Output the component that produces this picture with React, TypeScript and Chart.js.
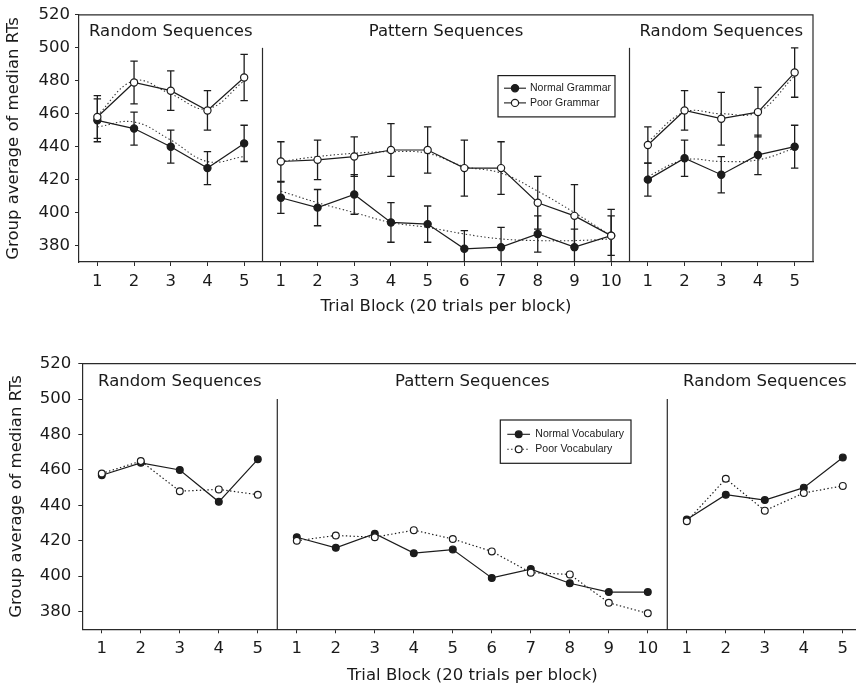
import React, { useEffect, useRef } from "react";
import { Chart, registerables } from "chart.js";

Chart.register(...registerables);

// ---------- data ----------
const randomBlocks = ["1", "2", "3", "4", "5"];
const patternBlocks = ["1", "2", "3", "4", "5", "6", "7", "8", "9", "10"];
const blockLabels = [...randomBlocks, ...patternBlocks, ...randomBlocks];
const sectionTitles = ["Random Sequences", "Pattern Sequences", "Random Sequences"];
const sectionSizes = [randomBlocks.length, patternBlocks.length, randomBlocks.length];
const yTicks = [380, 400, 420, 440, 460, 480, 500, 520];
const yMin = 370;
const yMax = 520;
const dividerTop = 500;
const sectionTitleLevel = 510;
const yTitle = "Group average of median RTs";
const xTitle = "Trial Block (20 trials per block)";

// Top panel (grammar)
const normalGrammar = [456, 451, 440, 427, 442, 409, 403, 411, 394, 393, 378, 379, 387, 379, 386, 420, 433, 423, 435, 440];
const normalGrammarErr = [13, 10, 10, 10, 11, 9.5, 11, 12, 12, 11, 11, 12, 11, 11, 12, 10, 11, 11, 12, 13];
const poorGrammar = [458, 479, 474, 462, 482, 431, 432, 434, 438, 438, 427, 427, 406, 398, 386, 441, 462, 457, 461, 485];
const poorGrammarErr = [13, 13, 12, 12, 14, 12, 12, 12, 16, 14, 17, 16, 16, 19, 16, 11, 12, 16, 15, 15];
const normalGrammarTrend = [452, 455, 444, 431, 434, 413, 406, 400, 394, 391, 387, 384, 383, 383, 384, 422, 432, 431, 432, 439];
const poorGrammarTrend = [459, 480, 472, 463, 480, 431, 434, 436, 437, 436, 428, 424, 413, 400, 386, 443, 461, 460, 461, 483];

// Bottom panel (vocabulary)
const normalVocab = [457, 464, 460, 442, 466, 422, 416, 424, 413, 415, 399, 404, 396, 391, 391, 432, 446, 443, 450, 467];
const poorVocab = [458, 465, 448, 449, 446, 420, 423, 422, 426, 421, 414, 402, 401, 385, 379, 431, 455, 437, 447, 451];

// ---------- styling ----------
const INK = "#1c1c1c";
const AXIS = "#2a2a2a";
const TEXT = "#1a1a1a";
const BIG_FAMILY = "'DejaVu Sans', sans-serif";
const BIG_SIZE = 16.5;
const SMALL_FONT = "10.5px 'Liberation Sans', Arial, sans-serif";
const DOTS = [1.4, 2.4];

const sectionStarts: number[] = [];
{
  let s = 0;
  sectionSizes.forEach((n) => {
    sectionStarts.push(s);
    s += n;
  });
}

function toPoints(values: number[]) {
  const pts: { x: number; y: number | null }[] = [];
  values.forEach((v, i) => {
    if (i > 0 && sectionStarts.includes(i)) pts.push({ x: i + 0.5, y: null });
    pts.push({ x: i + 1, y: v });
  });
  return pts;
}

function seriesDataset(label: string, values: number[], filled: boolean, dotted: boolean, order: number, radius: number) {
  return {
    label,
    data: toPoints(values),
    borderColor: INK,
    borderWidth: 1.2,
    borderDash: dotted ? DOTS : [],
    backgroundColor: filled ? INK : "#ffffff",
    pointBackgroundColor: filled ? INK : "#ffffff",
    pointBorderColor: INK,
    pointBorderWidth: 1.2,
    pointRadius: radius,
    pointHoverRadius: radius,
    tension: 0,
    order,
    legendItem: true,
  };
}

function trendDataset(label: string, values: number[], order: number) {
  return {
    label,
    data: toPoints(values),
    borderColor: "#333333",
    borderWidth: 1.1,
    borderDash: DOTS,
    pointRadius: 0,
    pointHoverRadius: 0,
    tension: 0.4,
    order,
    legendItem: false,
  };
}

type LegendSpec = { dx: number; dy: number; w: number; h: number; rows: number[]; lineX: number[]; markerX: number; textX: number };

function makeDecorPlugin(spec: {
  errorBars: { values: number[]; errors: number[] }[];
  legend: LegendSpec;
  markerRadius: number;
}) {
  return {
    id: "decor",
    beforeDatasetsDraw(chart: any) {
      const { ctx, chartArea: ca, scales } = chart;
      const x = scales.x;
      const y = scales.y;
      ctx.save();
      ctx.beginPath();
      ctx.rect(ca.left, ca.top, ca.right - ca.left, ca.bottom - ca.top);
      ctx.clip();
      ctx.strokeStyle = INK;
      ctx.lineWidth = 1.3;
      const cap = 3.7;
      spec.errorBars.forEach(({ values, errors }) => {
        values.forEach((v, i) => {
          const px = x.getPixelForValue(i + 1);
          const top = y.getPixelForValue(v + errors[i]);
          const bot = y.getPixelForValue(v - errors[i]);
          ctx.beginPath();
          ctx.moveTo(px, top);
          ctx.lineTo(px, bot);
          ctx.moveTo(px - cap, top);
          ctx.lineTo(px + cap, top);
          ctx.moveTo(px - cap, bot);
          ctx.lineTo(px + cap, bot);
          ctx.stroke();
        });
      });
      ctx.restore();
    },
    afterDatasetsDraw(chart: any) {
      const { ctx, chartArea: ca, scales } = chart;
      const x = scales.x;
      const y = scales.y;
      ctx.save();
      // frame (top and right)
      ctx.strokeStyle = AXIS;
      ctx.lineWidth = 1.2;
      ctx.beginPath();
      ctx.moveTo(ca.left, ca.top);
      ctx.lineTo(ca.right, ca.top);
      ctx.lineTo(ca.right, ca.bottom);
      ctx.stroke();
      // section dividers
      const yDiv = y.getPixelForValue(dividerTop);
      sectionStarts.slice(1).forEach((s) => {
        const px = x.getPixelForValue(s + 0.5);
        ctx.beginPath();
        ctx.moveTo(px, yDiv);
        ctx.lineTo(px, ca.bottom);
        ctx.stroke();
      });
      // section titles
      ctx.fillStyle = TEXT;
      ctx.font = `${BIG_SIZE}px ${BIG_FAMILY}`;
      ctx.textAlign = "center";
      ctx.textBaseline = "middle";
      const yT = y.getPixelForValue(sectionTitleLevel);
      sectionTitles.forEach((t, k) => {
        const start = sectionStarts[k] + 1;
        const end = sectionStarts[k] + sectionSizes[k];
        ctx.fillText(t, x.getPixelForValue((start + end) / 2), yT);
      });
      // legend
      const lg = spec.legend;
      const bx = ca.left + lg.dx;
      const by = ca.top + lg.dy;
      ctx.strokeStyle = INK;
      ctx.lineWidth = 1.2;
      ctx.fillStyle = "#ffffff";
      ctx.fillRect(bx, by, lg.w, lg.h);
      ctx.strokeRect(bx, by, lg.w, lg.h);
      const items = chart.data.datasets.filter((d: any) => d.legendItem);
      items.forEach((d: any, k: number) => {
        const ry = by + lg.rows[k];
        ctx.strokeStyle = INK;
        ctx.lineWidth = 1.1;
        ctx.setLineDash(d.borderDash || []);
        ctx.beginPath();
        ctx.moveTo(bx + lg.lineX[0], ry);
        ctx.lineTo(bx + lg.lineX[1], ry);
        ctx.stroke();
        ctx.setLineDash([]);
        ctx.beginPath();
        ctx.arc(bx + lg.markerX, ry, spec.markerRadius, 0, Math.PI * 2);
        ctx.fillStyle = d.pointBackgroundColor;
        ctx.fill();
        ctx.lineWidth = 1.2;
        ctx.stroke();
        ctx.fillStyle = TEXT;
        ctx.font = SMALL_FONT;
        ctx.textAlign = "left";
        ctx.textBaseline = "middle";
        ctx.fillText(d.label, bx + lg.textX, ry);
      });
      ctx.restore();
    },
  };
}

type PanelSpec = {
  datasets: any[];
  padding: { left: number; top: number; right: number; bottom: number };
  yAxisWidth: number;
  xAxisHeight: number;
  yTickPad: number;
  xTickPad: number;
  errorBars: { values: number[]; errors: number[] }[];
  legend: LegendSpec;
  markerRadius: number;
};

function buildConfig(p: PanelSpec): any {
  const bigFont = { family: BIG_FAMILY, size: BIG_SIZE };
  const grid = { display: true, drawOnChartArea: false, drawTicks: true, tickLength: 4, color: AXIS, lineWidth: 1 };
  const border = { display: true, color: AXIS, width: 1.2 };
  return {
    type: "line",
    data: { datasets: p.datasets },
    options: {
      responsive: false,
      maintainAspectRatio: false,
      animation: false,
      events: [],
      layout: { padding: p.padding },
      plugins: { legend: { display: false }, tooltip: { enabled: false } },
      scales: {
        x: {
          type: "linear",
          min: 0.5,
          max: blockLabels.length + 0.5,
          afterBuildTicks: (s: any) => {
            s.ticks = blockLabels.map((_, i) => ({ value: i + 1 }));
          },
          ticks: {
            color: TEXT,
            font: bigFont,
            padding: p.xTickPad,
            autoSkip: false,
            maxRotation: 0,
            callback: (v: number) => blockLabels[Math.round(v) - 1] ?? "",
          },
          grid,
          border,
          title: { display: true, text: xTitle, color: TEXT, font: bigFont, padding: { top: 4, bottom: 4 } },
          afterFit: (s: any) => {
            s.height = p.xAxisHeight;
          },
        },
        y: {
          type: "linear",
          min: yMin,
          max: yMax,
          afterBuildTicks: (s: any) => {
            s.ticks = yTicks.map((v) => ({ value: v }));
          },
          ticks: { color: TEXT, font: bigFont, padding: p.yTickPad },
          grid,
          border,
          title: { display: true, text: yTitle, color: TEXT, font: bigFont, padding: { top: 4, bottom: 4 } },
          afterFit: (s: any) => {
            s.width = p.yAxisWidth;
          },
        },
      },
    },
    plugins: [makeDecorPlugin({ errorBars: p.errorBars, legend: p.legend, markerRadius: p.markerRadius })],
  };
}

const topPanel: PanelSpec = {
  datasets: [
    seriesDataset("Normal Grammar", normalGrammar, true, false, 1, 3.6),
    seriesDataset("Poor Grammar", poorGrammar, false, false, 0, 3.6),
    trendDataset("Normal Grammar trend", normalGrammarTrend, 2),
    trendDataset("Poor Grammar trend", poorGrammarTrend, 3),
  ],
  padding: { left: 0, top: 12, right: 43, bottom: 9 },
  yAxisWidth: 79,
  xAxisHeight: 59,
  yTickPad: 5,
  xTickPad: 6,
  errorBars: [
    { values: normalGrammar, errors: normalGrammarErr },
    { values: poorGrammar, errors: poorGrammarErr },
  ],
  legend: { dx: 419, dy: 60.7, w: 117, h: 41.3, rows: [12.6, 27.3], lineX: [6, 28], markerX: 17, textX: 32 },
  markerRadius: 3.6,
};

const bottomPanel: PanelSpec = {
  datasets: [
    seriesDataset("Normal Vocabulary", normalVocab, true, false, 1, 3.4),
    seriesDataset("Poor Vocabulary", poorVocab, false, true, 0, 3.4),
  ],
  padding: { left: 3, top: 33.7, right: 7.7, bottom: 10.4 },
  yAxisWidth: 79.3,
  xAxisHeight: 60.3,
  yTickPad: 7,
  xTickPad: 6,
  errorBars: [],
  legend: { dx: 418, dy: 56.3, w: 130.7, h: 43.3, rows: [14.3, 29.3], lineX: [7, 29.7], markerX: 18.4, textX: 35 },
  markerRadius: 3.4,
};

function PanelCanvas({ spec, left, top, width, height }: { spec: PanelSpec; left: number; top: number; width: number; height: number }) {
  const ref = useRef<HTMLCanvasElement>(null);
  useEffect(() => {
    if (!ref.current) return;
    const chart = new Chart(ref.current, buildConfig(spec));
    return () => chart.destroy();
  }, [spec]);
  return (
    <canvas
      ref={ref}
      width={width}
      height={height}
      style={{ position: "absolute", left, top, width, height, display: "block" }}
    />
  );
}

export default function App() {
  return (
    <div
      style={{
        position: "fixed",
        left: 0,
        top: 0,
        width: 856,
        height: 686,
        overflow: "hidden",
        background: "#ffffff",
      }}
    >
      <PanelCanvas spec={topPanel} left={0} top={0} width={856} height={330} />
      <PanelCanvas spec={bottomPanel} left={0} top={330} width={870} height={370} />
    </div>
  );
}
